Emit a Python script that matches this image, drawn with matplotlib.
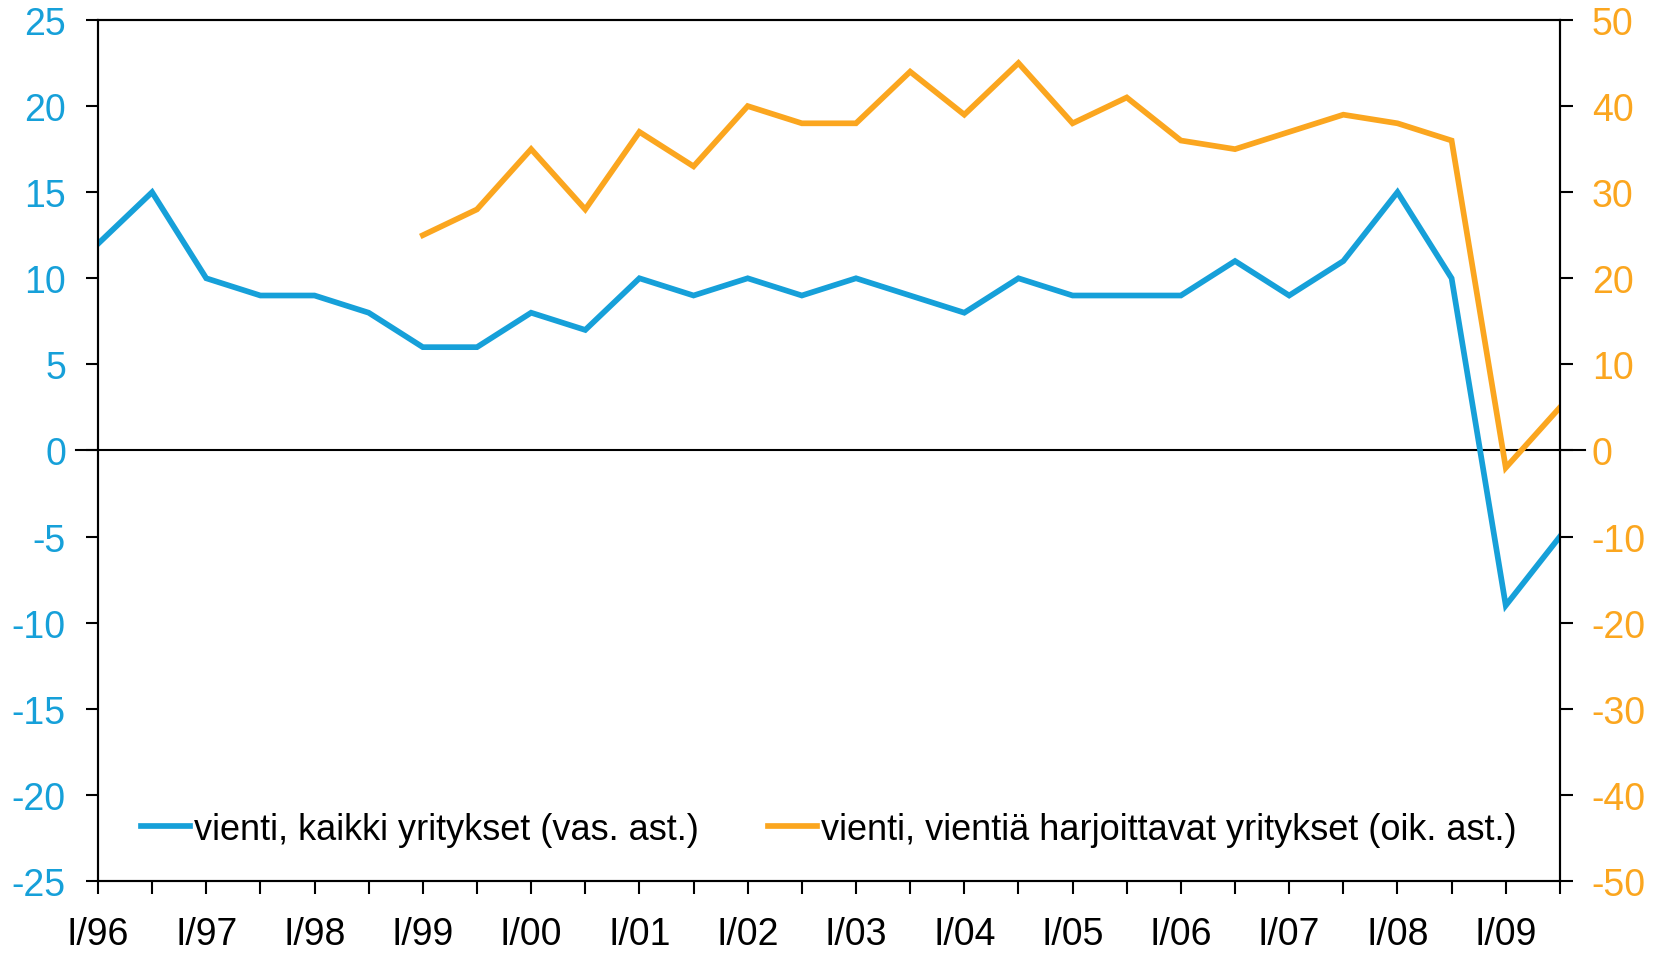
import numpy as np
import matplotlib
matplotlib.use("Agg")
import matplotlib.pyplot as plt

plt.rcParams['font.family'] = ['Liberation Sans', 'DejaVu Sans']
plt.rcParams['axes.unicode_minus'] = False

# half-year periods I/96 ... II/09
years = ['96', '97', '98', '99', '00', '01', '02', '03', '04', '05', '06', '07', '08', '09']
periods = []
for y in years:
    periods.append('I/' + y)
    periods.append('II/' + y)

# vienti, kaikki yritykset (left axis)
all_firms = [12, 15, 10, 9, 9, 8, 6, 6, 8, 7, 10, 9, 10, 9, 10, 9, 8, 10,
             9, 9, 9, 11, 9, 11, 15, 10, -9, -5]
# vienti, vientiä harjoittavat yritykset (right axis), starts I/99
exporters = [np.nan] * 6 + [25, 28, 35, 28, 37, 33, 40, 38, 38, 44, 39, 45,
                            38, 41, 36, 35, 37, 39, 38, 36, -2, 5]

blue = '#16A0D9'
orange = '#FBA61F'
fs = 27

fig = plt.figure(figsize=(16.6, 9.54), dpi=100)
ax = fig.add_axes([0.059, 0.0755, 0.8807, 0.9025])
ax2 = ax.twinx()

x = np.arange(len(periods))
l1, = ax.plot(x, all_firms, color=blue, lw=4.1, solid_joinstyle='miter',
              label='vienti, kaikki yritykset (vas. ast.)')
l2, = ax2.plot(x, exporters, color=orange, lw=4.1, solid_joinstyle='miter',
               label='vienti, vientiä harjoittavat yritykset (oik. ast.)')

ax.set_xlim(0, len(periods) - 1)
ax.set_ylim(-25, 25)
ax2.set_ylim(-50, 50)
ax.set_yticks(np.arange(-25, 26, 5))
ax2.set_yticks(np.arange(-50, 51, 10))

ax.set_xticks(x)
ax.set_xticklabels([p if p.startswith('I/') else '' for p in periods])

ax.axhline(0, xmin=-0.015, xmax=1.017, color='black', lw=1.5, clip_on=False, zorder=1)

for a in (ax, ax2):
    for s in a.spines.values():
        s.set_linewidth(1.5)
ax.tick_params(axis='x', direction='out', length=9, width=1.5, pad=16, labelsize=fs)
ax.tick_params(axis='y', direction='out', length=9, width=1.5, pad=14,
               labelsize=fs, labelcolor=blue)
ax2.tick_params(axis='y', direction='out', length=9, width=1.5, pad=14,
                labelsize=fs, labelcolor=orange)

ax.legend(handles=[l1, l2], loc='center', bbox_to_anchor=(0.5, 0.06), ncol=2,
          frameon=False, fontsize=26, handlelength=1.35, handletextpad=0.12,
          columnspacing=1.9)

fig.savefig('out.png', dpi=100)
